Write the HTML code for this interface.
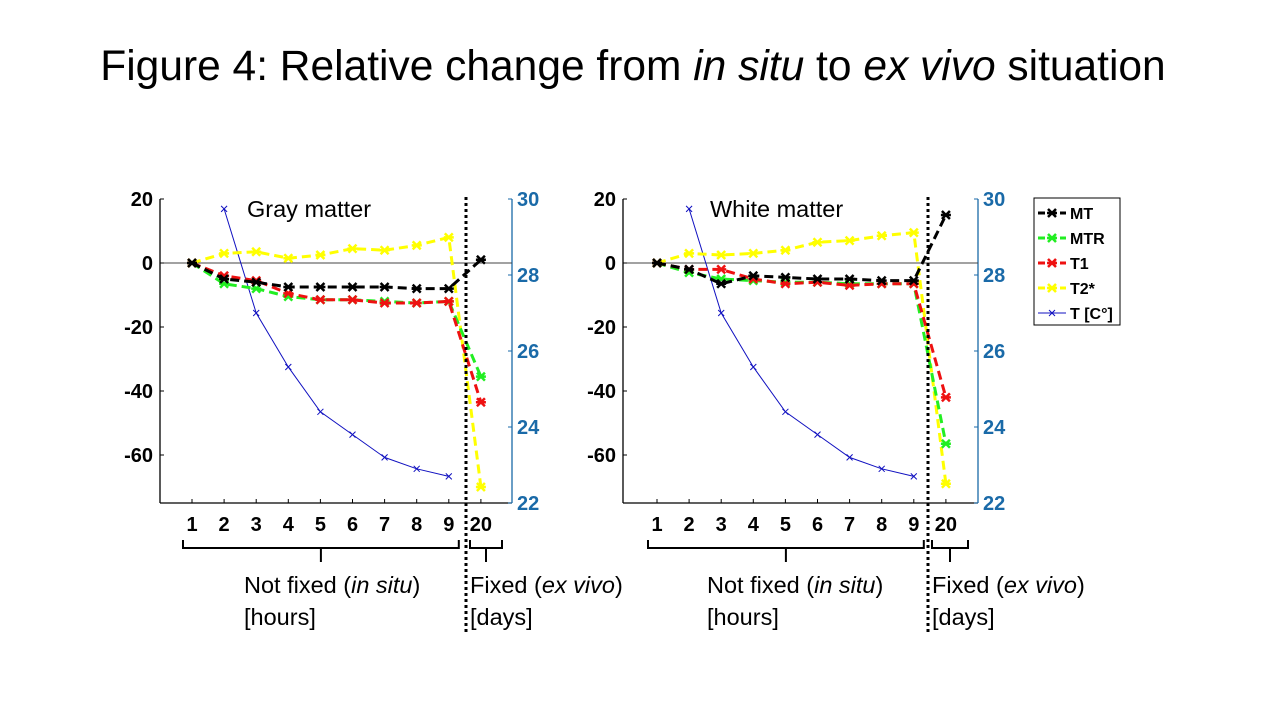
<!DOCTYPE html>
<html><head><meta charset="utf-8"><style>
body{margin:0;background:#fff;width:1280px;height:720px;overflow:hidden}
svg{display:block}
text{font-family:"Liberation Sans",sans-serif}
</style></head><body>
<svg id="s" width="1280" height="720">
<text x="633" y="80" text-anchor="middle" font-size="42.5">Figure 4: Relative change from <tspan font-style="italic">in situ</tspan> to <tspan font-style="italic">ex vivo</tspan> situation</text>
</svg>
<script>
const categories=["1","2","3","4","5","6","7","8","9","20"];
const leftTicks=[20,0,-20,-40,-60];
const rightTicks=[30,28,26,24,22];
const grayMT=[0,-5,-6,-7.5,-7.5,-7.5,-7.5,-8,-8,1];
const grayMTR=[0,-6.5,-8,-10.5,-11.5,-11.5,-12,-12.5,-12,-35.5];
const grayT1=[0,-4,-5.5,-9.5,-11.5,-11.5,-12.5,-12.5,-12,-43.5];
const grayT2=[0,3,3.5,1.5,2.5,4.5,4,5.5,8,-70];
const grayTemp=[null,29.74,27.0,25.58,24.4,23.8,23.2,22.9,22.7,null];
const whiteMT=[0,-2,-6.5,-4,-4.5,-5,-5,-5.5,-5.5,15];
const whiteMTR=[0,-3,-5,-5.5,-6,-6,-6.5,-6.5,-6.5,-56.5];
const whiteT1=[0,-2,-2,-5,-6.5,-6,-7,-6.5,-6.5,-42];
const whiteT2=[0,3,2.5,3,4,6.5,7,8.5,9.5,-69];
const whiteTemp=[null,29.74,27.0,25.58,24.4,23.8,23.2,22.9,22.7,null];

const NS="http://www.w3.org/2000/svg";
const svg=document.getElementById('s');
function mk(tag,attrs,parent){const e=document.createElementNS(NS,tag);for(const k in attrs)e.setAttribute(k,attrs[k]);(parent||svg).appendChild(e);return e;}

function panel(p){
  const g=mk('g',{});
  
  
  const yL=v=>199+(20-v)*3.2;
  const yR=v=>199+(30-v)*38;
  const x=i=>p.x1+i*p.dx;
  mk('line',{x1:p.ax,y1:199,x2:p.ax,y2:503,stroke:'#000','stroke-width':1.3},g);
  mk('line',{x1:p.ax,y1:503,x2:p.bx,y2:503,stroke:'#000','stroke-width':1.3},g);
  mk('line',{x1:p.bx,y1:199,x2:p.bx,y2:503,stroke:'#1a6aa8','stroke-width':1.3},g);
  mk('line',{x1:p.ax,y1:yL(0),x2:p.bx,y2:yL(0),stroke:'#444','stroke-width':1},g);
  leftTicks.forEach(t=>{
    mk('line',{x1:p.ax,y1:yL(t),x2:p.ax+4,y2:yL(t),stroke:'#000'},g);
    const e=mk('text',{x:p.ax-7,y:yL(t)+7,'text-anchor':'end','font-size':20,'font-weight':'bold'},g);e.textContent=t;
    
    
  });
  rightTicks.forEach(t=>{
    mk('line',{x1:p.bx-4,y1:yR(t),x2:p.bx,y2:yR(t),stroke:'#1a6aa8'},g);
    const e=mk('text',{x:p.bx+5,y:yR(t)+7,'font-size':20,'font-weight':'bold',fill:'#1a6aa8'},g);e.textContent=t;
    
    
  });
  categories.forEach((c,i)=>{
    mk('line',{x1:x(i),y1:503,x2:x(i),y2:499,stroke:'#000'},g);
    const e=mk('text',{x:x(i),y:531,'text-anchor':'middle','font-size':20,'font-weight':'bold'},g);e.textContent=c;
    
    
  });
  const lbl=mk('text',{x:p.ax+87,y:217,'font-size':23.5},g);lbl.textContent=p.label;
  
  
  let pts=[];p.temp.forEach((v,i)=>{if(v!=null)pts.push([x(i),yR(v)]);});
  const tl=mk('polyline',{points:pts.map(q=>q.join(',')).join(' '),fill:'none',stroke:'#1010c0','stroke-width':1},g);
  
  
  pts.forEach(q=>{mk('path',{d:`M${q[0]-3},${q[1]-3}L${q[0]+3},${q[1]+3}M${q[0]-3},${q[1]+3}L${q[0]+3},${q[1]-3}`,stroke:'#1010c0','stroke-width':1},g);});
  [[p.t2,'#ffff00','t2star'],[p.mtr,'#22ee22','mtr'],[p.t1,'#ee1111','t1'],[p.mt,'#000','mt']].forEach(([d,col,nm])=>{
    const pp=d.map((v,i)=>[x(i),yL(v)]);
    const l=mk('polyline',{points:pp.map(q=>q.join(',')).join(' '),fill:'none',stroke:col,'stroke-width':3,'stroke-dasharray':'9,5'},g);
    
    
    pp.forEach(q=>{mk('path',{d:`M${q[0]-4},${q[1]-4}L${q[0]+4},${q[1]+4}M${q[0]-4},${q[1]+4}L${q[0]+4},${q[1]-4}M${q[0]-5},${q[1]}L${q[0]+5},${q[1]}`,stroke:col,'stroke-width':2.5},g);});
  });
  mk('line',{x1:p.sep,y1:197,x2:p.sep,y2:632,stroke:'#000','stroke-width':3,'stroke-dasharray':'3,3'},g);
  const b1a=x(0)-9,b1b=x(8)+10,m1=(b1a+b1b)/2;
  mk('path',{d:`M${b1a},540V548H${b1b}V540M${m1},548V562`,fill:'none',stroke:'#000','stroke-width':2},g);
  const b2a=p.sep+4,b2b=p.bx-10,m2=(b2a+b2b)/2;
  mk('path',{d:`M${b2a},540V548H${b2b}V540M${m2},548V562`,fill:'none',stroke:'#000','stroke-width':2},g);
  const t1=mk('text',{x:p.ax+84,y:593,'font-size':23.5},g);
  t1.innerHTML='Not fixed (<tspan font-style="italic">in situ</tspan>)';
  
  
  const t2=mk('text',{x:p.ax+84,y:625,'font-size':23.5},g);t2.textContent='[hours]';
  const t3=mk('text',{x:p.sep+4,y:593,'font-size':23.5},g);
  t3.innerHTML='Fixed (<tspan font-style="italic">ex vivo</tspan>)';
  
  
  const t4=mk('text',{x:p.sep+4,y:625,'font-size':23.5},g);t4.textContent='[days]';
}
panel({name:'gray-matter-chart',label:'Gray matter',ax:160,bx:512,x1:192,dx:32.1,sep:466,mt:grayMT,mtr:grayMTR,t1:grayT1,t2:grayT2,temp:grayTemp});
panel({name:'white-matter-chart',label:'White matter',ax:623,bx:978,x1:657,dx:32.1,sep:928,mt:whiteMT,mtr:whiteMTR,t1:whiteT1,t2:whiteT2,temp:whiteTemp});

const lg=mk('g',{});


mk('rect',{x:1034,y:198,width:86,height:127,fill:'#fff',stroke:'#000','stroke-width':1},lg);
[['MT','#000'],['MTR','#22ee22'],['T1','#ee1111'],['T2*','#ffff00'],['T [C°]','#1010c0']].forEach(([n,c],i)=>{
  const y=213+i*25;
  if(i<4){mk('line',{x1:1038,y1:y,x2:1066,y2:y,stroke:c,'stroke-width':3,'stroke-dasharray':'7,4'},lg);
    mk('path',{d:`M1048,${y-4}L1056,${y+4}M1048,${y+4}L1056,${y-4}M1047,${y}H1057`,stroke:c,'stroke-width':2.5},lg);}
  else{mk('line',{x1:1038,y1:y,x2:1066,y2:y,stroke:c,'stroke-width':1},lg);
    mk('path',{d:`M1049,${y-3}L1055,${y+3}M1049,${y+3}L1055,${y-3}`,stroke:c},lg);}
  const t=mk('text',{x:1070,y:y+6,'font-size':16,'font-weight':'bold'},lg);t.textContent=n;
  
  
});
</script>
</body></html>
